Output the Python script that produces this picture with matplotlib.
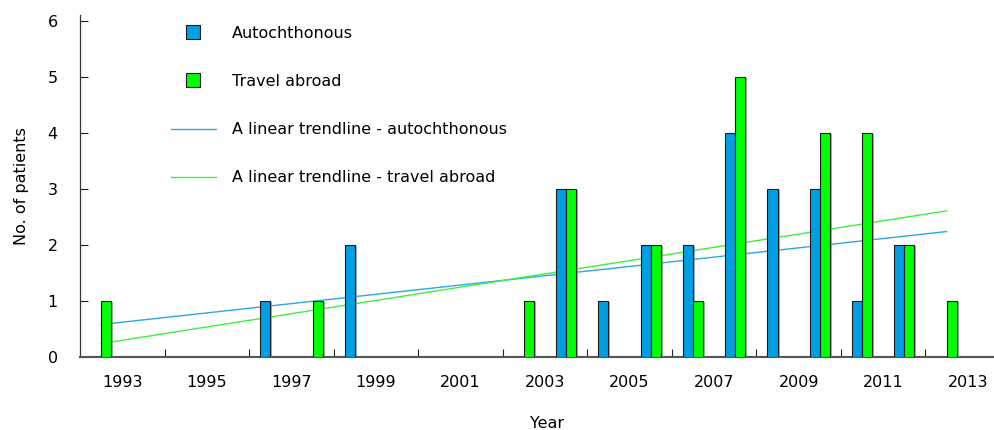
import numpy as np
import matplotlib
matplotlib.use("Agg")
import matplotlib.pyplot as plt
from matplotlib.lines import Line2D
import matplotlib.patheffects as pe

years = list(range(1993, 2014))
autochthonous = [0, 0, 0, 0, 1, 0, 2, 0, 0, 0, 0, 3, 1, 2, 2, 4, 3, 3, 1, 2, 0]
travel_abroad = [1, 0, 0, 0, 0, 1, 0, 0, 0, 0, 1, 3, 0, 2, 1, 5, 0, 4, 4, 2, 1]
# trendline values at first and last year
trend_auto = [0.58, 2.24]
trend_travel = [0.24, 2.61]
tick_years = list(range(1993, 2014, 2))

blue = "#009FE3"
green = "#00FF00"
blue_line = "#2EA8E0"
green_line = "#3CF03C"

plt.rcParams['font.family'] = ['DejaVu Sans']
fs = 11.5

fig = plt.figure(figsize=(9.94, 4.30), dpi=100)
ax_w = 930 / 994
ax = fig.add_axes([80 / 994, 1 - 357 / 430, ax_w, 341.6 / 430])

x = np.arange(len(years))
w = 0.237
auto = np.array(autochthonous, dtype=float)
trav = np.array(travel_abroad, dtype=float)
ma = auto > 0
mt = trav > 0

shadow = [pe.SimplePatchShadow(offset=(1.5, -1), shadow_rgbFace='#888888', alpha=0.7), pe.Normal()]
b1 = ax.bar(x[ma] - w / 2, auto[ma], width=w, color=blue, edgecolor='#1a1a1a', linewidth=0.8, zorder=3)
b2 = ax.bar(x[mt] + w / 2, trav[mt], width=w, color=green, edgecolor='#1a1a1a', linewidth=0.8, zorder=3)
for p in list(b1) + list(b2):
    p.set_path_effects(shadow)

ax.plot([x[0], x[-1]], trend_auto, color=blue_line, lw=1.0, zorder=2)
ax.plot([x[0], x[-1]], trend_travel, color=green_line, lw=1.0, zorder=2)

ax.set_xlim(-0.5, 21.5)
ax.set_ylim(0, 6.1)
ax.set_yticks(range(0, 7))
ax.tick_params(axis='y', direction='in', length=6, width=0.8, pad=16, labelsize=fs, colors='#222222')
ax.tick_params(axis='y', labelcolor='black')

ax.set_xticks(np.arange(1.5, 20, 2))
ax.set_xticklabels([])
ax.set_xticks([years.index(t) + 0.5 for t in tick_years], minor=True)
ax.set_xticklabels([str(t) for t in tick_years], minor=True)
ax.tick_params(axis='x', which='major', direction='in', length=6, width=0.8, colors='#222222')
ax.tick_params(axis='x', which='minor', length=0, pad=13, labelsize=fs, labelcolor='black')

for s in ['top', 'right']:
    ax.spines[s].set_visible(False)
ax.spines['left'].set_color('#333333')
ax.spines['left'].set_linewidth(0.9)
ax.spines['bottom'].set_color('#555555')
ax.spines['bottom'].set_linewidth(1.5)

ax.set_ylabel("No. of patients", fontsize=fs)
ax.yaxis.set_label_coords(-0.055, 0.5)
ax.set_xlabel("Year", fontsize=fs)
ax.xaxis.set_label_coords(0.502, -0.174)

handles = [
    Line2D([], [], linestyle='none', marker='s', markersize=10, markerfacecolor=blue, markeredgecolor='#1a1a1a', markeredgewidth=0.8),
    Line2D([], [], linestyle='none', marker='s', markersize=10, markerfacecolor=green, markeredgecolor='#1a1a1a', markeredgewidth=0.8),
    Line2D([], [], color=blue_line, lw=1.0),
    Line2D([], [], color=green_line, lw=1.0),
]
labels = ["Autochthonous", "Travel abroad", "A linear trendline - autochthonous", "A linear trendline - travel abroad"]
leg = fig.legend(handles, labels, loc='upper left', bbox_to_anchor=(171 / 994, 1 - 26 / 430),
                 frameon=False, fontsize=fs, handlelength=45 / 16, handletextpad=1.0,
                 labelspacing=2.07, borderpad=0, borderaxespad=0)

fig.savefig("out.png", dpi=100)
